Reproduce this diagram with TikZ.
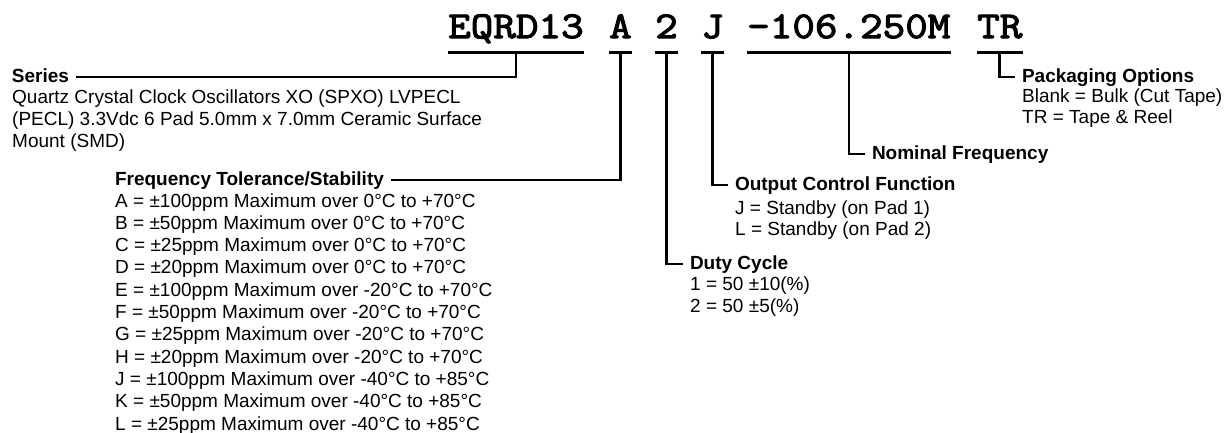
\documentclass[tikz,border=0pt]{standalone}
\usepackage{fontspec}
\setmainfont{Liberation Sans}
\newfontfamily\partfont[FakeBold=3, FakeStretch=1.16]{Latin Modern Mono}
\usetikzlibrary{positioning}

\tikzset{
	parttext/.style={font=\partfont\bfseries\fontsize{37.8}{40}\selectfont, inner sep=0pt, anchor=base west, text depth=14pt}
}
\tikzset{
	headtext/.style={font=\bfseries\fontsize{19}{22}\selectfont, inner sep=0pt, outer xsep=7pt, outer ysep=0pt, anchor=base west, text height=10pt, text depth=0pt}
}
\tikzset{
	bodytext/.style={font=\fontsize{19}{22}\selectfont, inner sep=0pt, anchor=base west}
}
\tikzset{
	leader/.style={line width=2.6pt}
}

\begin{document}
\begin{tikzpicture}[x=1pt,y=-1pt]
	\useasboundingbox (0,0) rectangle (1230,432);

	\begin{scope}
		\node[parttext] (pSeries) at (448,38) {EQRD13};
		\node[parttext] (pTol) at (609,38) {A};
		\node[parttext] (pDuty) at (655,38) {2};
		\node[parttext] (pOut) at (701,38) {J};
		\node[parttext] (pFreq) at (747,38) {-106.250M};
		\node[parttext] (pPack) at (977,38) {TR};

		\foreach \p in {pSeries,pTol,pDuty,pOut,pFreq,pPack}
			\draw[leader] (\p.south west) -- (\p.south east);
	\end{scope}

	\begin{scope}
		\node[headtext] (hSeries) at (5,82) {Series};
		\node[bodytext] (bSeries1) at (12,103) {Quartz Crystal Clock Oscillators XO (SPXO) LVPECL};
		\node[bodytext] (bSeries2) at (12,125) {(PECL) 3.3Vdc 6 Pad 5.0mm x 7.0mm Ceramic Surface};
		\node[bodytext] (bSeries3) at (12,147) {Mount (SMD)};
	\end{scope}

	\begin{scope}
		\node[headtext] (hTol) at (108,185) {Frequency Tolerance/Stability};
		\foreach \t [count=\i] in {
				{A = ±100ppm Maximum over 0°C to +70°C},
				{B = ±50ppm Maximum over 0°C to +70°C},
				{C = ±25ppm Maximum over 0°C to +70°C},
				{D = ±20ppm Maximum over 0°C to +70°C},
				{E = ±100ppm Maximum over -20°C to +70°C},
				{F = ±50ppm Maximum over -20°C to +70°C},
				{G = ±25ppm Maximum over -20°C to +70°C},
				{H = ±20ppm Maximum over -20°C to +70°C},
				{J = ±100ppm Maximum over -40°C to +85°C},
				{K = ±50ppm Maximum over -40°C to +85°C},
				{L = ±25ppm Maximum over -40°C to +85°C}}
			\node[bodytext] (bTol\i) at (115,{184.7+22.3*\i}) {\t};
	\end{scope}

	\begin{scope}
		\node[headtext] (hDuty) at (683,269) {Duty Cycle};
		\node[bodytext] (bDuty1) at (690,290) {1 = 50 ±10(\%)};
		\node[bodytext] (bDuty2) at (690,312) {2 = 50 ±5(\%)};

		\node[headtext] (hOut) at (728,190) {Output Control Function};
		\node[bodytext] (bOut1) at (735,214) {J = Standby (on Pad 1)};
		\node[bodytext] (bOut2) at (735,235) {L = Standby (on Pad 2)};

		\node[headtext] (hFreq) at (865,159) {Nominal Frequency};

		\node[headtext] (hPack) at (1015,82) {Packaging Options};
		\node[bodytext] (bPack1) at (1022,102) {Blank = Bulk (Cut Tape)};
		\node[bodytext] (bPack2) at (1022,123) {TR = Tape \& Reel};
	\end{scope}

	\draw[leader] (pSeries.south) |- (hSeries.east);
	\draw[leader] (pTol.south) |- (hTol.east);
	\draw[leader] (pDuty.south) |- (hDuty.west);
	\draw[leader] (pOut.south) |- (hOut.west);
	\draw[leader] (pFreq.south) |- (hFreq.west);
	\draw[leader] (pPack.south) |- (hPack.west);

\end{tikzpicture}
\end{document}
